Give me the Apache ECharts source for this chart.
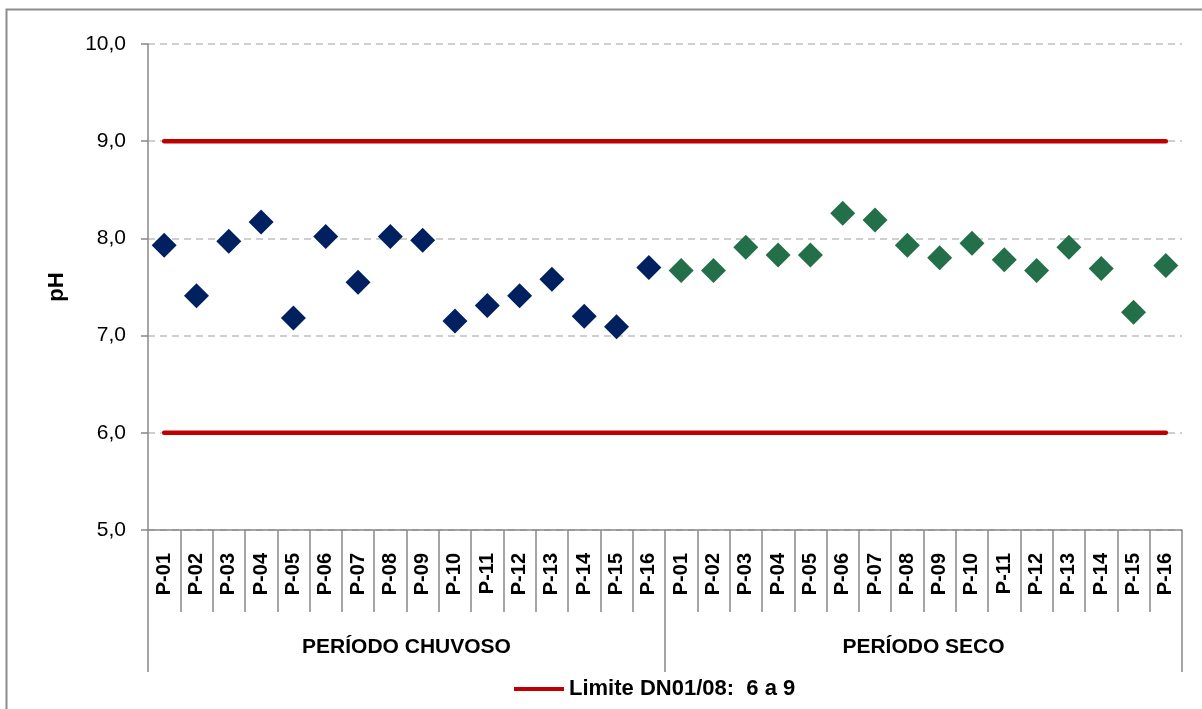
<!DOCTYPE html>
<html>
<head>
<meta charset="utf-8">
<script src="https://cdn.jsdelivr.net/npm/echarts@6/dist/echarts.min.js"></script>
<style>
html,body{margin:0;padding:0;background:#fff;}
#chart{width:1202px;height:709px;}
</style>
</head>
<body>
<div id="chart"></div>
<script>
// ---- data ----
var pointLabels = ['P-01','P-02','P-03','P-04','P-05','P-06','P-07','P-08','P-09','P-10','P-11','P-12','P-13','P-14','P-15','P-16'];
var periods = ['PERÍODO CHUVOSO','PERÍODO SECO'];
var chuvosoValues = [7.93,7.41,7.97,8.17,7.18,8.02,7.55,8.02,7.98,7.15,7.31,7.41,7.58,7.20,7.09,7.70];
var secoValues = [7.67,7.67,7.91,7.83,7.83,8.26,8.19,7.93,7.80,7.95,7.78,7.67,7.91,7.69,7.24,7.72];
var limitMax = 9;
var limitMin = 6;
var limitName = 'Limite DN01/08:  6 a 9';
var yTickLabels = ['5,0','6,0','7,0','8,0','9,0','10,0'];
var yTickValues = [5,6,7,8,9,10];

// ---- build ----
var categories = pointLabels.concat(pointLabels);
var nCat = categories.length;
var chuvosoSeries = [], secoSeries = [], upper = [], lower = [];
for (var i = 0; i < nCat; i++) {
  chuvosoSeries.push(i < 16 ? chuvosoValues[i] : '-');
  secoSeries.push(i >= 16 ? secoValues[i - 16] : '-');
  upper.push(limitMax);
  lower.push(limitMin);
}
var FONT = '"Liberation Sans", Arial, sans-serif';
var GREY = '#888888';

var chart = echarts.init(document.getElementById('chart'), null, {renderer: 'canvas'});
chart.setOption({
  animation: false,
  backgroundColor: '#ffffff',
  textStyle: {fontFamily: FONT},
  graphic: [{
    type: 'rect', silent: true, z: -1,
    shape: {x: 6.5, y: 9.5, width: 1300, height: 800},
    style: {fill: 'none', stroke: '#8c8c8c', lineWidth: 2}
  }],
  grid: {left: 148, right: 20, top: 44, bottom: 179, containLabel: false},
  legend: {
    data: [limitName],
    left: 514, top: 678, padding: 0,
    icon: 'rect', itemWidth: 50, itemHeight: 4, itemGap: 10,
    textStyle: {fontFamily: FONT, fontSize: 22, fontWeight: 'bold', color: '#000'},
    selectedMode: false
  },
  xAxis: [{
    type: 'category', data: categories, boundaryGap: true, position: 'bottom',
    axisLine: {show: true, lineStyle: {color: GREY, width: 1.5}},
    axisTick: {show: true, interval: 0, length: 82, alignWithLabel: false, lineStyle: {color: GREY, width: 1.5}},
    axisLabel: {interval: 0, rotate: 90, margin: 23, fontFamily: FONT, fontSize: 20, fontWeight: 'bold', color: '#000'},
    splitLine: {show: false}
  }, {
    type: 'category', data: periods, boundaryGap: true, position: 'bottom',
    axisLine: {show: false},
    axisTick: {show: true, interval: 0, length: 142, lineStyle: {color: GREY, width: 1.5}},
    axisLabel: {interval: 0, margin: 107, fontFamily: FONT, fontSize: 21, fontWeight: 'bold', color: '#000'},
    splitLine: {show: false}
  }],
  yAxis: {
    type: 'value', min: 5, max: 10, interval: 1,
    name: 'pH', nameLocation: 'middle', nameGap: 80, nameRotate: 90,
    nameTextStyle: {fontFamily: FONT, fontSize: 22, fontWeight: 'bold', color: '#000'},
    axisLine: {show: true, lineStyle: {color: GREY, width: 1.5}},
    axisTick: {show: true, length: 7, inside: false, lineStyle: {color: GREY, width: 1.5}},
    axisLabel: {margin: 22, fontFamily: FONT, fontSize: 21, color: '#000',
      formatter: function (v) { var k = yTickValues.indexOf(v); return k >= 0 ? yTickLabels[k] : ''; }},
    splitLine: {show: true, lineStyle: {color: '#c0c0c0', width: 1.5, type: [7, 5]}}
  },
  series: [{
    name: limitName, type: 'line', data: upper, symbol: 'none', xAxisIndex: 0,
    lineStyle: {color: '#C00000', width: 4.5, cap: 'round'}, itemStyle: {color: '#C00000'}, z: 3
  }, {
    name: limitName, type: 'line', data: lower, symbol: 'none', xAxisIndex: 0,
    lineStyle: {color: '#C00000', width: 4.5, cap: 'round'}, itemStyle: {color: '#C00000'}, z: 3
  }, {
    name: 'Período chuvoso', type: 'scatter', data: chuvosoSeries, xAxisIndex: 0,
    symbol: 'diamond', symbolSize: 25, itemStyle: {color: '#002060', opacity: 1}, z: 4
  }, {
    name: 'Período seco', type: 'scatter', data: secoSeries, xAxisIndex: 0,
    symbol: 'diamond', symbolSize: 25, itemStyle: {color: '#236F49', opacity: 1}, z: 4
  }]
});
</script>
</body>
</html>
